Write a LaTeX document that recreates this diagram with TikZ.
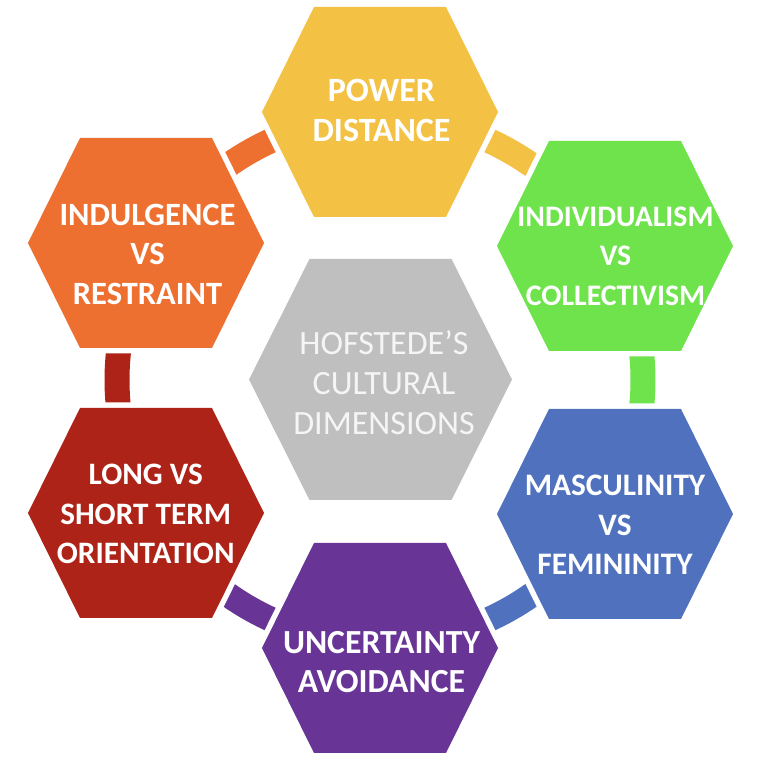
\documentclass[tikz,border=0pt]{standalone}
\usepackage{fontspec}
\setmainfont{Carlito}
\definecolor{cyel}{HTML}{F3C244}
\definecolor{corg}{HTML}{ED7031}
\definecolor{cgrn}{HTML}{6EE34B}
\definecolor{cblu}{HTML}{5072BE}
\definecolor{cpur}{HTML}{683597}
\definecolor{cred}{HTML}{AE2318}
\definecolor{cgry}{HTML}{BFBFBF}
\begin{document}
\begin{tikzpicture}[x=1pt,y=1pt,
  hexo/.style={insert path={(-118,0) -- (-66,105) -- (66,105) -- (118,0) -- (66,-105) -- (-66,-105) -- cycle}},
  hexc/.style={insert path={(-131.5,0) -- (-71,120.5) -- (71,120.5) -- (131.5,0) -- (71,-120.5) -- (-71,-120.5) -- cycle}},
  gap/.style={draw=white, line width=11pt, line join=miter},
  conn/.style={line width=25pt, line cap=butt},
  lbl/.style={align=center, text=white, inner sep=0pt,
    font=\bfseries\fontsize{#1}{39.5}\selectfont},
  clbl/.style={align=center, text=white!96!black, inner sep=0pt,
    font=\fontsize{34}{40}\selectfont}]
\useasboundingbox (0,0) rectangle (756,764);
\coordinate (C) at (380,384);
% connectors (arcs of a ring)
\draw[conn, cyel] ([shift={(90:263pt)}]C) arc[start angle=90, end angle=30, radius=263pt];
\draw[conn, cgrn] ([shift={(30:263pt)}]C) arc[start angle=30, end angle=-30, radius=263pt];
\draw[conn, cblu] ([shift={(-30:263pt)}]C) arc[start angle=-30, end angle=-90, radius=263pt];
\draw[conn, cpur] ([shift={(-90:263pt)}]C) arc[start angle=-90, end angle=-150, radius=263pt];
\draw[conn, cred] ([shift={(-150:263pt)}]C) arc[start angle=-150, end angle=-210, radius=263pt];
\draw[conn, corg] ([shift={(150:263pt)}]C) arc[start angle=150, end angle=90, radius=263pt];
% white gaps round the hexagons
\path[gap, shift={(380,652)}, hexo];
\path[gap, shift={(146,521)}, hexo];
\path[gap, shift={(615,518)}, hexo];
\path[gap, shift={(146,251)}, hexo];
\path[gap, shift={(615,250)}, hexo];
\path[gap, shift={(380,116)}, hexo];
% hexagons
\path[fill=cyel, shift={(380,652)}, hexo];
\path[fill=corg, shift={(146,521)}, hexo];
\path[fill=cgrn, shift={(615,518)}, hexo];
\path[fill=cred, shift={(146,251)}, hexo];
\path[fill=cblu, shift={(615,250)}, hexo];
\path[fill=cpur, shift={(380,116)}, hexo];
\path[fill=cgry, shift={(380.5,384.5)}, hexc];
% labels
\node[lbl=34] (pd) at (381.5,653.5) {POWER\\DISTANCE};
\node[lbl=32.5] (ind) at (147.5,510) {INDULGENCE\\VS\\RESTRAINT};
\node[lbl=29.8] (idv) at (615.5,508) {INDIVIDUALISM\\VS\\COLLECTIVISM};
\node[lbl=31.2] (lto) at (145.7,250) {LONG VS\\SHORT TERM\\ORIENTATION};
\node[lbl=31.3] (mas) at (615,239) {MASCULINITY\\VS\\FEMININITY};
\node[lbl=33.7] (ua) at (381.5,102) {UNCERTAINTY\\AVOIDANCE};
\node[clbl] (hof) at (384,381) {HOFSTEDE’S\\CULTURAL\\DIMENSIONS};
\end{tikzpicture}
\end{document}
